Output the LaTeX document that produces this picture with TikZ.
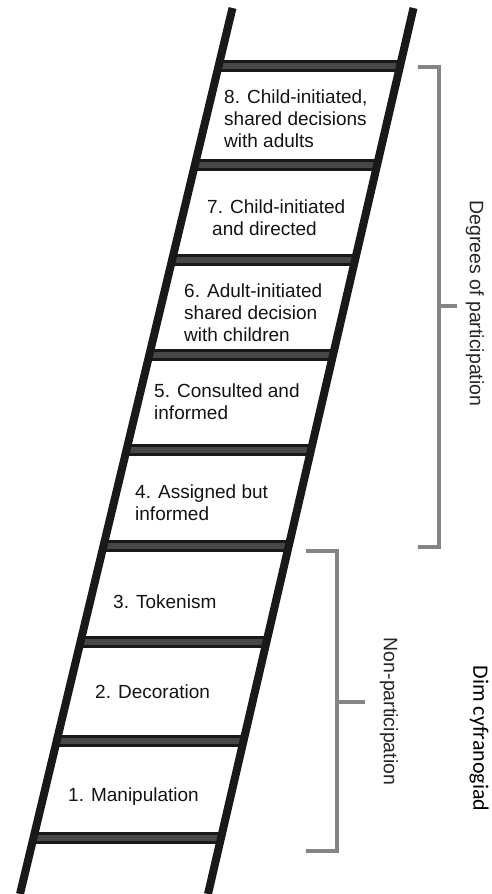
\documentclass[tikz,border=0pt]{standalone}
\usepackage{fontspec}
\setmainfont{Liberation Sans}
\newfontfamily\calfont{Carlito}
\begin{document}
\begin{tikzpicture}[x=1pt,y=-1pt,
  rail/.style={line width=8pt, draw=black!90, line cap=butt},
  rungouter/.style={line width=12pt, draw=black!90},
  runginner/.style={line width=6pt, draw=black!72},
  lbl/.style={font=\fontsize{19}{22}\selectfont, text=black!92, align=left, inner sep=0pt},
  brk/.style={line width=3.2pt, draw=black!48},
  side/.style={font=\fontsize{19.5}{22}\selectfont, text=black!85, rotate=-90, inner sep=0pt},
]
\path[use as bounding box, fill=white] (0,0) rectangle (492,894);
\begin{scope}
\clip (0,0) rectangle (492,894);
% rails
\coordinate (lt) at (232.5,8);
\coordinate (lb) at (20,894);
\coordinate (rt) at (413.5,8);
\coordinate (rb) at (208,894);
% rungs
\foreach \yy in {66,165,260,355,450,546,642,741,838}{
  \pgfmathsetmacro{\xl}{232.5-0.2399*(\yy-8)}
  \pgfmathsetmacro{\xr}{413.5-0.2320*(\yy-8)}
  \draw[rungouter] (\xl,\yy) -- (\xr,\yy);
  \draw[runginner] (\xl,\yy) -- (\xr,\yy);
}
\draw[rail] (lt) -- (lb);
\draw[rail] (rt) -- (rb);
\end{scope}
% rung labels
\node[lbl, anchor=west] (r8) at (224,118.5) {8. Child-initiated,\\shared decisions\\with adults};
\node[lbl, anchor=west] (r7) at (207,217.5) {7. Child-initiated\\\hspace*{5pt}and directed};
\node[lbl, anchor=west] (r6) at (184,312.5) {6. Adult-initiated\\shared decision\\with children};
\node[lbl, anchor=west] (r5) at (154,401.5) {5. Consulted and\\informed};
\node[lbl, anchor=west] (r4) at (135,502.5) {4. Assigned but\\informed};
\node[lbl, anchor=west] (r3) at (113,602) {3. Tokenism};
\node[lbl, anchor=west] (r2) at (95,692) {2. Decoration};
\node[lbl, anchor=west] (r1) at (68,797) {1. Manipulation};
% brackets
\coordinate (b1a) at (418,67);
\coordinate (b1b) at (439,67);
\coordinate (b1c) at (439,547);
\coordinate (b1d) at (418,547);
\coordinate (b1m) at (439,306);
\coordinate (b1t) at (457,306);
\draw[brk] (b1a) -- (b1b) -- (b1c) -- (b1d);
\draw[brk] (b1m) -- (b1t);
\coordinate (b2a) at (306,551);
\coordinate (b2b) at (337,551);
\coordinate (b2c) at (337,851);
\coordinate (b2d) at (306,851);
\coordinate (b2m) at (337,702);
\coordinate (b2t) at (365,702);
\draw[brk] (b2a) -- (b2b) -- (b2c) -- (b2d);
\draw[brk] (b2m) -- (b2t);
\node[side] (deg) at (475,303.5) {Degrees of participation};
\node[side] (non) at (389,711.5) {Non-participation};
\node[rotate=-90, inner sep=0pt, font=\calfont\fontsize{22}{24}\selectfont, text=black] (dim) at (479,738.5) {Dim cyfranogiad};
\end{tikzpicture}
\end{document}
